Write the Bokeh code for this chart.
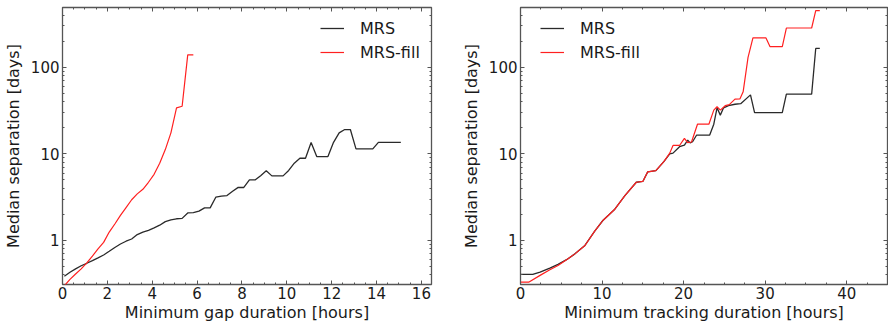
from bokeh.plotting import figure
from bokeh.models import (Range1d, LogAxis, LinearAxis, SingleIntervalTicker,
                          FixedTicker, LogTickFormatter, Legend, LegendItem,
                          CustomJSTickFormatter)
from bokeh.layouts import row
from bokeh.embed import file_html
from bokeh.resources import INLINE

# ---------------- data: left panel (minimum gap duration) ----------------
gap_hours = [0.083, 0.333, 0.583, 0.833, 1.083, 1.333, 1.583, 1.833, 2.083, 2.333,
             2.583, 2.833, 3.083, 3.333, 3.583, 3.833, 4.083, 4.333, 4.583, 4.833,
             5.083, 5.333, 5.583, 5.833, 6.083, 6.333, 6.583, 6.833, 7.083, 7.333,
             7.583, 7.833, 8.083, 8.333, 8.583, 8.833, 9.083, 9.333, 9.583, 9.833,
             10.083, 10.333, 10.583, 10.833, 11.083, 11.333, 11.583, 11.833, 12.083, 12.333,
             12.583, 12.833, 13.083, 13.333, 13.583, 13.833, 14.083, 14.333, 14.583, 14.833,
             15.083]
gap_mrs = [0.385, 0.43, 0.47, 0.51, 0.545, 0.585, 0.63, 0.68, 0.75, 0.83,
           0.91, 0.98, 1.04, 1.17, 1.25, 1.31, 1.40, 1.50, 1.65, 1.73,
           1.78, 1.80, 2.08, 2.10, 2.18, 2.38, 2.38, 3.16, 3.25, 3.30,
           3.70, 4.10, 4.09, 5.0, 5.0, 5.6, 6.37, 5.57, 5.57, 5.57,
           6.43, 7.8, 8.9, 8.9, 13.5, 9.3, 9.3, 9.3, 13.6, 17.5,
           19.1, 19.1, 11.4, 11.4, 11.4, 11.4, 13.6, 13.6, 13.6, 13.6,
           13.6]
gap_hours_fill = gap_hours[:24]
gap_mrs_fill = [0.30, 0.355, 0.41, 0.47, 0.55, 0.66, 0.80, 0.95, 1.25, 1.55,
                1.95, 2.4, 2.95, 3.45, 3.9, 4.7, 5.8, 7.8, 11.2, 17.5,
                34.0, 35.5, 139.0, 139.0]

# ---------------- data: right panel (minimum tracking duration) ----------------
trk_hours = [0, 1.5, 2.4, 3.6, 4.6, 5.65, 6.67, 7.9, 9.1, 10.1,
             11.5, 12.8, 14.2, 15.0, 15.6, 16.6, 17.6, 18.3, 18.7, 19.5,
             20.1, 20.5, 20.8, 21.1, 21.6, 23.2, 23.7, 24.1, 24.5, 24.9,
             25.5, 26.3, 27.0, 28.2, 28.7, 32.1, 32.6, 35.7, 36.2, 36.7]
trk_mrs = [0.405, 0.405, 0.43, 0.48, 0.53, 0.60, 0.70, 0.875, 1.28, 1.70,
           2.26, 3.30, 4.70, 4.80, 6.20, 6.40, 8.20, 10.0, 10.2, 12.1,
           12.6, 14.4, 13.4, 13.8, 16.5, 16.5, 22.0, 34.0, 28.0, 34.0,
           36.0, 37.4, 38.0, 48.0, 30.0, 30.0, 49.0, 49.0, 165.0, 165.0]
trk_hours_fill = [0, 1.0, 2.4, 3.6, 4.6, 5.65, 6.67, 7.9, 9.1, 10.1,
                  11.5, 12.8, 14.2, 15.0, 15.6, 16.6, 17.6, 18.3, 18.7, 19.5,
                  20.1, 20.5, 20.97, 21.7, 23.1, 23.7, 24.1, 24.5, 25.1, 25.6,
                  26.3, 26.9, 27.3, 27.9, 28.5, 30.1, 30.6, 32.1, 32.6, 35.7,
                  36.2, 36.7]
trk_mrs_fill = [0.33, 0.33, 0.395, 0.46, 0.515, 0.60, 0.70, 0.875, 1.28, 1.70,
                2.26, 3.30, 4.70, 4.80, 6.20, 6.40, 8.20, 10.2, 12.5, 12.5,
                15.1, 13.5, 13.7, 22.0, 22.0, 32.0, 35.0, 32.0, 36.0, 37.0,
                42.8, 43.0, 52.0, 130.0, 218.0, 218.0, 173.0, 173.0, 284.0, 284.0,
                450.0, 450.0]

y_major = [1, 10, 100]
series_names = ["MRS", "MRS-fill"]
ylabel = "Median separation [days]"

FONT = "DejaVu Sans"
SPINE = "#555555"
BLACK = "#2a2a2a"
RED = "#ff2020"

y_minor = [m * d for d in (0.1, 1, 10, 100) for m in range(2, 10)]


def style_axis(ax, show_labels):
    ax.major_tick_in = 4
    ax.major_tick_out = 0
    ax.minor_tick_in = 2
    ax.minor_tick_out = 0
    ax.major_tick_line_color = SPINE
    ax.minor_tick_line_color = SPINE
    ax.axis_line_color = None
    if show_labels:
        ax.major_label_text_font = FONT
        ax.major_label_text_font_size = "15px"
        ax.major_label_text_color = "#1a1a1a"
        ax.axis_label_text_font = FONT
        ax.axis_label_text_font_size = "16px"
        ax.axis_label_text_font_style = "normal"
        ax.axis_label_text_color = "#1a1a1a"
    else:
        ax.formatter = CustomJSTickFormatter(code="return '';")
        ax.major_label_standoff = 0
        ax.axis_label = None


def make_panel(xmax, interval, xlabel, b_left, b_right):
    p = figure(width=444, height=324, x_range=Range1d(0, xmax),
               y_range=Range1d(0.31, 490), y_axis_type="log",
               output_backend="svg", toolbar_location=None,
               min_border_left=b_left, min_border_right=b_right,
               min_border_top=7, min_border_bottom=40)
    p.xgrid.visible = False
    p.ygrid.visible = False
    p.outline_line_color = SPINE
    p.outline_line_width = 1.3
    p.background_fill_color = "white"
    p.border_fill_color = "white"

    xa = p.xaxis[0]
    xa.ticker = SingleIntervalTicker(interval=interval, num_minor_ticks=4)
    xa.axis_label = xlabel
    xa.major_label_standoff = 2
    xa.axis_label_standoff = 1
    style_axis(xa, True)

    ya = p.yaxis[0]
    ya.ticker = FixedTicker(ticks=y_major, minor_ticks=y_minor)
    ya.formatter = LogTickFormatter(min_exponent=4)
    ya.axis_label = ylabel
    ya.major_label_standoff = 3
    ya.axis_label_standoff = 5
    style_axis(ya, True)

    top = LinearAxis(ticker=SingleIntervalTicker(interval=interval, num_minor_ticks=4))
    style_axis(top, False)
    p.add_layout(top, "above")
    right = LogAxis(ticker=FixedTicker(ticks=y_major, minor_ticks=y_minor))
    style_axis(right, False)
    p.add_layout(right, "right")
    return p


p1 = make_panel(16.45, 2, "Minimum gap duration [hours]", 60, 13)
r1 = p1.line(gap_hours, gap_mrs, line_color=BLACK, line_width=1.3)
r2 = p1.line(gap_hours_fill, gap_mrs_fill, line_color=RED, line_width=1.2)

p2 = make_panel(45, 10, "Minimum tracking duration [hours]", 76, 1)
r3 = p2.line(trk_hours, trk_mrs, line_color=BLACK, line_width=1.3)
r4 = p2.line(trk_hours_fill, trk_mrs_fill, line_color=RED, line_width=1.2)


def add_legend(p, ra, rb, x):
    lg = Legend(items=[LegendItem(label=series_names[0], renderers=[ra]),
                       LegendItem(label=series_names[1], renderers=[rb])],
                location=(x, 220), border_line_color=None,
                background_fill_alpha=0, label_text_font=FONT,
                label_text_font_size="16px", label_text_color="#1a1a1a",
                glyph_width=24, glyph_height=24, label_height=24,
                label_standoff=16, padding=0, margin=0, spacing=0)
    p.add_layout(lg)


add_legend(p1, r1, r2, 258)
add_legend(p2, r3, r4, 20)

layout = row(p1, p2, spacing=0)
open("out.html", "w").write(file_html(layout, INLINE))
